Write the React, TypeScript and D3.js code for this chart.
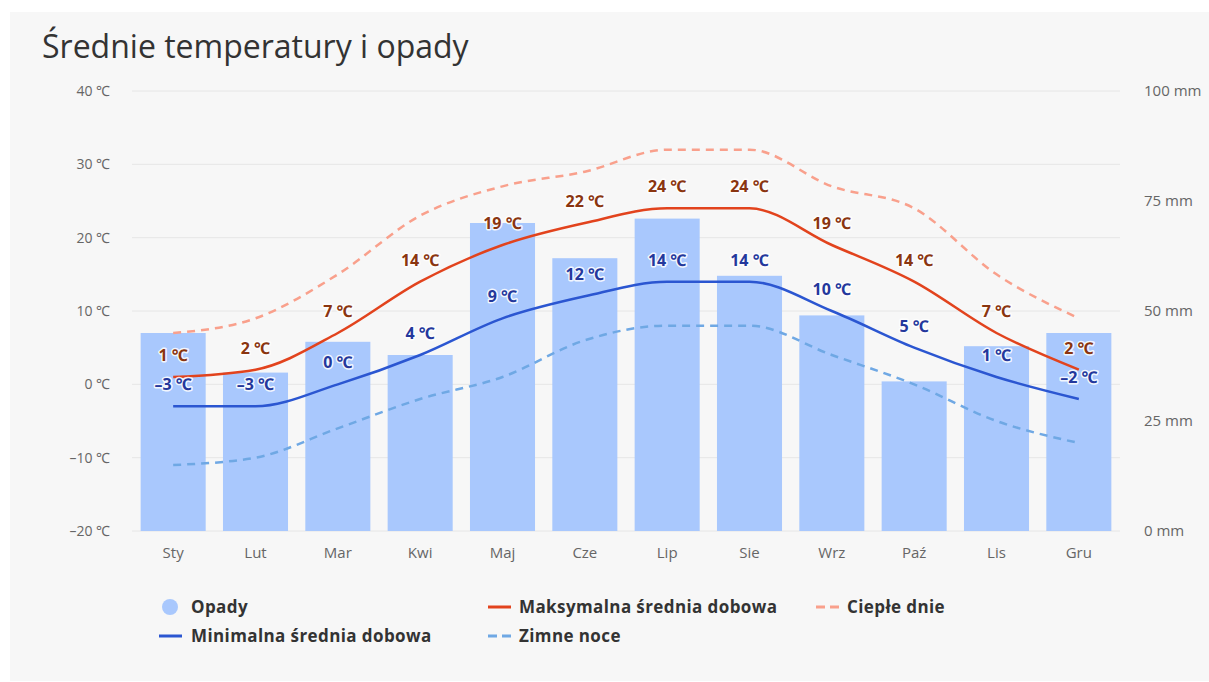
import React from 'react';
import * as d3 from 'd3';

const months = ['Sty', 'Lut', 'Mar', 'Kwi', 'Maj', 'Cze', 'Lip', 'Sie', 'Wrz', 'Paź', 'Lis', 'Gru'];
const rain = [45, 36, 43, 40, 70, 62, 71, 58, 49, 34, 42, 45];
const maxTemp = [1, 2, 7, 14, 19, 22, 24, 24, 19, 14, 7, 2];
const minTemp = [-3, -3, 0, 4, 9, 12, 14, 14, 10, 5, 1, -2];
const warmDays = [7, 9, 15, 23, 27, 29, 32, 32, 27, 24, 15, 9];
const coldNights = [-11, -10, -6, -2, 1, 6, 8, 8, 4, 0, -5, -8];
const tempTicks = [40, 30, 20, 10, 0, -10, -20];
const rainTicks = [100, 75, 50, 25, 0];

const font = '"Open Sans", "Noto Sans", sans-serif';

// negative numbers are shown with a wide dash, like the original
const fmt = (v: number, unit: string) => `${v < 0 ? '–' : ''}${Math.abs(v)} ${unit}`;

function App() {
  const width = 1209;
  const height = 682;
  const plot = { left: 132, right: 1120, top: 91, bottom: 531 };

  const x = d3.scaleBand<string>().domain(months).range([plot.left, plot.right]);
  const cx = (m: string) => (x(m) ?? 0) + x.bandwidth() / 2;
  const barW = x.bandwidth() * 0.79;

  const yT = d3.scaleLinear().domain([-20, 40]).range([plot.bottom, plot.top]);
  const yR = d3.scaleLinear().domain([0, 100]).range([plot.bottom, plot.top]);

  const line = (vals: number[]) =>
    d3
      .line<number>()
      .x((_, i) => cx(months[i]))
      .y((d) => yT(d))
      .curve(d3.curveMonotoneX)(vals) ?? '';

  const series = [
    { vals: warmDays, color: '#f9a08c', dash: '8,6' },
    { vals: coldNights, color: '#6fa8e4', dash: '8,6' },
    { vals: maxTemp, color: '#e2431d', dash: null },
    { vals: minTemp, color: '#2b56d1', dash: null },
  ];

  const labelStyle = {
    fontFamily: font,
    fontSize: 16,
    fontWeight: 700,
    paintOrder: 'stroke',
    stroke: 'rgba(255,255,255,0.85)',
    strokeWidth: 3,
    strokeLinejoin: 'round',
  } as React.CSSProperties;

  return (
    <svg
      width={width}
      height={height}
      style={{ position: 'absolute', left: 0, top: 0, background: '#ffffff' }}
    >
      <rect x={10} y={12} width={width - 10} height={height - 13} fill="#f7f7f7" />
      <text x={42} y={58} fontFamily={font} fontSize={32} fill="#333">
        Średnie temperatury i opady
      </text>

      <g className="grid">
        {tempTicks.map((t) => (
          <line
            key={t}
            x1={plot.left}
            x2={plot.right}
            y1={yT(t)}
            y2={yT(t)}
            stroke="#e6e6e6"
            strokeWidth={1}
          />
        ))}
      </g>

      <g className="axes" fontFamily={font} fontSize={14} fill="#666">
        {tempTicks.map((t) => (
          <text key={t} x={110} y={yT(t)} dy="0.35em" textAnchor="end">
            {fmt(t, '℃')}
          </text>
        ))}
        {rainTicks.map((t) => (
          <text key={t} x={1144} y={yR(t)} dy="0.35em" fontSize={15}>
            {`${t} mm`}
          </text>
        ))}
        {months.map((m) => (
          <text key={m} x={cx(m)} y={558} textAnchor="middle" fontSize={15}>
            {m}
          </text>
        ))}
      </g>

      <g className="bars">
        {rain.map((v, i) => (
          <rect
            key={months[i]}
            x={cx(months[i]) - barW / 2}
            y={yR(v)}
            width={barW}
            height={yR(0) - yR(v)}
            fill="#a9c8fd"
          />
        ))}
      </g>

      <g className="lines">
        {series.map((s, i) => (
          <path
            key={i}
            d={line(s.vals)}
            fill="none"
            stroke={s.color}
            strokeWidth={2.5}
            strokeDasharray={s.dash ?? undefined}
          />
        ))}
      </g>

      <g className="labels" textAnchor="middle">
        {maxTemp.map((v, i) => (
          <text key={'max' + i} x={cx(months[i])} y={yT(v) - 16} fill="#8a3510" style={labelStyle}>
            {fmt(v, '℃')}
          </text>
        ))}
        {minTemp.map((v, i) => (
          <text key={'min' + i} x={cx(months[i])} y={yT(v) - 16} fill="#24389c" style={labelStyle}>
            {fmt(v, '℃')}
          </text>
        ))}
      </g>

      <g className="legend" fontFamily={font} fontSize={17} fontWeight={700} fill="#333" letterSpacing={0.4}>
        <circle cx={170} cy={607} r={8} fill="#a9c8fd" />
        <text x={191} y={607} dy="0.35em">Opady</text>

        <line x1={488} x2={511} y1={607} y2={607} stroke="#e2431d" strokeWidth={3} />
        <text x={519} y={607} dy="0.35em">Maksymalna średnia dobowa</text>

        <line x1={816} x2={839} y1={607} y2={607} stroke="#f9a08c" strokeWidth={3} strokeDasharray="9,5" />
        <text x={847} y={607} dy="0.35em">Ciepłe dnie</text>

        <line x1={159} x2={182} y1={636} y2={636} stroke="#2b56d1" strokeWidth={3} />
        <text x={191} y={636} dy="0.35em">Minimalna średnia dobowa</text>

        <line x1={488} x2={511} y1={636} y2={636} stroke="#6fa8e4" strokeWidth={3} strokeDasharray="9,5" />
        <text x={519} y={636} dy="0.35em">Zimne noce</text>
      </g>
    </svg>
  );
}

export default App;
